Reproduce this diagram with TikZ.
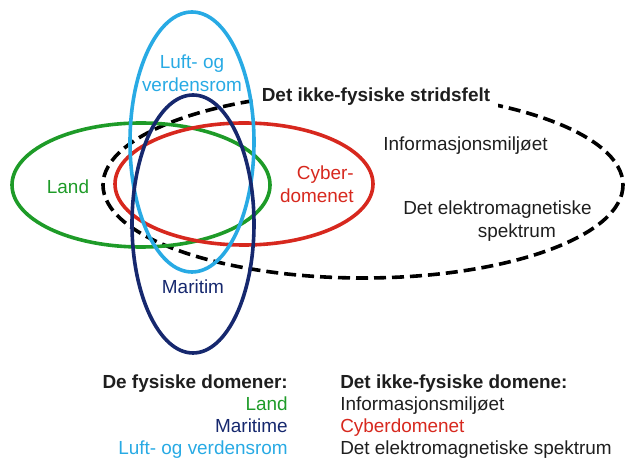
\documentclass[tikz,border=0pt]{standalone}
\usepackage{fontspec}
\setmainfont{Liberation Sans}
\definecolor{landgreen}{RGB}{30,155,40}
\definecolor{cyberred}{RGB}{215,40,30}
\definecolor{airblue}{RGB}{40,170,228}
\definecolor{seanavy}{RGB}{22,40,110}
\definecolor{txt}{RGB}{30,30,30}
\tikzset{
  domainline/.style={line width=2.7pt},
  lbl/.style={inner sep=0pt, font=\fontsize{14.2}{17.25}\selectfont, text=txt},
  legend/.style={inner sep=0pt, font=\fontsize{14.2}{16.5}\selectfont, text=txt},
}
\begin{document}
\begin{tikzpicture}[x=0.75pt,y=-0.75pt]
\useasboundingbox (0,0) rectangle (626,459);
% non-physical battlefield
\draw[line width=2.7pt, dash pattern=on 9pt off 4.5pt] (363,185) ellipse [x radius=260, y radius=93];
\node[lbl, fill=white, inner xsep=6pt, inner ysep=3pt, font=\fontsize{14.2}{17.25}\selectfont\bfseries] (stridsfelt) at (376,97) {Det ikke-fysiske stridsfelt};
% physical domains
\draw[domainline, landgreen] (141,185) ellipse [x radius=129, y radius=62];
\draw[domainline, cyberred] (244,184) ellipse [x radius=129, y radius=61];
\draw[domainline, airblue] (192,142) ellipse [x radius=62, y radius=130];
\draw[domainline, seanavy] (193,224) ellipse [x radius=61, y radius=129];
% labels in diagram
\node[lbl, text=airblue, align=center] (luft) at (192,73.5) {Luft- og\\verdensrom};
\node[lbl, text=landgreen] (land) at (68,187) {Land};
\node[lbl, text=cyberred, align=right, anchor=east] (cyber) at (354,184) {Cyber-\\domenet};
\node[lbl, text=seanavy] (maritim) at (193,287) {Maritim};
\node[lbl] (info) at (465.5,146) {Informasjonsmiljøet};
\node[lbl, align=left, anchor=west] (em) at (403,221.5) {Det elektromagnetiske\\\hspace*{56pt}spektrum};
% legend
\node[legend, align=right, anchor=east] (fysiske) at (288,416.5)
  {\textbf{De fysiske domener:}\\{\color{landgreen}Land}\\{\color{seanavy}Maritime}\\{\color{airblue}Luft- og verdensrom}};
\node[legend, align=left, anchor=west] (ikkefysiske) at (340,416.5)
  {\textbf{Det ikke-fysiske domene:}\\Informasjonsmiljøet\\{\color{cyberred}Cyberdomenet}\\Det elektromagnetiske spektrum};
\end{tikzpicture}
\end{document}
